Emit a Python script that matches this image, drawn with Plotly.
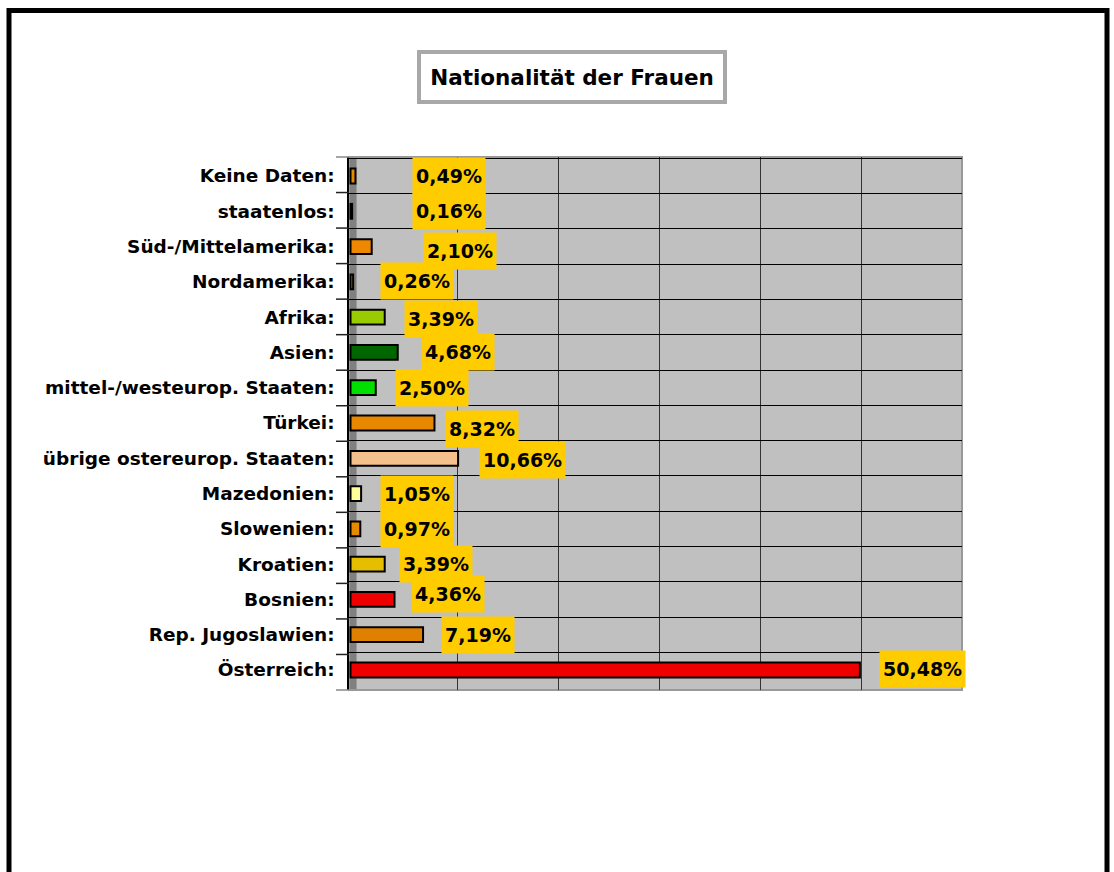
import plotly.graph_objects as go

# ---- data (top to bottom as shown) ----
categories = [
    "Keine Daten:", "staatenlos:", "Süd-/Mittelamerika:", "Nordamerika:",
    "Afrika:", "Asien:", "mittel-/westeurop. Staaten:", "Türkei:",
    "übrige ostereurop. Staaten:", "Mazedonien:", "Slowenien:", "Kroatien:",
    "Bosnien:", "Rep. Jugoslawien:", "Österreich:",
]
values = [0.49, 0.16, 2.10, 0.26, 3.39, 4.68, 2.50, 8.32, 10.66, 1.05, 0.97, 3.39, 4.36, 7.19, 50.48]
value_labels = ["0,49%", "0,16%", "2,10%", "0,26%", "3,39%", "4,68%", "2,50%", "8,32%",
                "10,66%", "1,05%", "0,97%", "3,39%", "4,36%", "7,19%", "50,48%"]

# ---- styles ----
bar_colors = ["#E68A00", "#2A1A00", "#EE8800", "#C87000", "#99CC00", "#006600", "#00E000",
              "#E88800", "#F4C08C", "#FFFF99", "#E68A00", "#E6BE00", "#EE0000", "#E08000", "#EE0000"]
label_xshift = [57, 60, 51, 27, 19, 23, 19, 11, 21, 19, 20, 14, 16, 18, 19]
label_yshift = [0, 0, -4, 1, -2, 0, 0, -6, -2, 0, 0, 0, 5, 0, 1]

W, H = 1114, 872
PX0, PX1, PY0, PY1 = 349, 962, 157, 690
xdom = [PX0 / W, PX1 / W]
ydom = [1 - PY1 / H, 1 - PY0 / H]
TICKLEN = 13

fig = go.Figure()
fig.add_trace(go.Bar(
    y=categories, x=values, orientation="h", xaxis="x2", yaxis="y",
    width=0.42,
    marker=dict(color=bar_colors, line=dict(color="#000000", width=2)),
    hoverinfo="x+y",
))

annotations = []
for cat, v, lab, xs, ys in zip(categories, values, value_labels, label_xshift, label_yshift):
    annotations.append(dict(
        xref="x2", yref="y", x=v, y=cat, text=lab, showarrow=False,
        xanchor="left", yanchor="middle", xshift=xs, yshift=ys,
        bgcolor="#FFCC00", borderpad=3, height=30,
        font=dict(family="DejaVu Sans", size=19, color="#000000", weight="bold"),
    ))

# title box
annotations.append(dict(
    xref="paper", yref="paper", x=572 / W, y=1 - 77 / H, xanchor="center", yanchor="middle",
    text="Nationalität der Frauen", showarrow=False,
    font=dict(family="DejaVu Sans", size=21.5, color="#000000", weight="bold"),
    bgcolor="#FFFFFF", bordercolor="#A8A8A8", borderwidth=4, borderpad=0,
    width=302, height=46,
))

shapes = [
    # 3D wall on the left
    dict(type="rect", xref="x", yref="y domain", x0=-0.75, x1=0, y0=0, y1=1,
         fillcolor="#808080", line=dict(width=0), layer="below"),
    # plot area border
    dict(type="rect", xref="x domain", yref="y domain", x0=0, x1=1, y0=0, y1=1,
         fillcolor="rgba(0,0,0,0)", line=dict(color="#999999", width=2), layer="below"),
    # outer frame
    dict(type="rect", xref="paper", yref="paper", x0=9 / W, x1=1107 / W, y0=-0.05, y1=1 - 10.5 / H,
         fillcolor="rgba(0,0,0,0)", line=dict(color="#000000", width=5)),
]
# category-boundary tick marks left of the axis
n = len(categories)
for i in range(n + 1):
    yb = ydom[1] - (ydom[1] - ydom[0]) * i / n
    shapes.append(dict(
        type="line", xref="paper", yref="paper",
        x0=(PX0 - TICKLEN) / W, x1=PX0 / W, y0=yb, y1=yb,
        line=dict(color="#222222" if 0 < i < n else "#888888", width=1.5),
    ))

fig.update_layout(
    width=W, height=H,
    margin=dict(l=0, r=0, t=0, b=0),
    paper_bgcolor="#FFFFFF", plot_bgcolor="#C0C0C0",
    showlegend=False,
    annotations=annotations, shapes=shapes,
    xaxis=dict(domain=xdom, range=[-0.75, 60], tickvals=[10, 20, 30, 40, 50],
               showticklabels=False, ticks="", showgrid=True, gridcolor="#333333", gridwidth=1,
               zeroline=False, showline=False, fixedrange=True),
    xaxis2=dict(overlaying="x", range=[-0.15, 60.6], visible=False, fixedrange=True),
    yaxis=dict(domain=ydom, type="category", autorange="reversed", tickson="boundaries",
               ticks="", ticklabelstandoff=9,
               showgrid=True, gridcolor="#000000", gridwidth=1,
               showline=True, linecolor="#000000", linewidth=1.5,
               tickfont=dict(family="DejaVu Sans", size=18.5, color="#000000", weight="bold"),
               automargin=False, fixedrange=True),
)

fig.write_html("out.html", config={"displayModeBar": False},
               post_script="document.body.style.margin='0';document.body.style.overflow='hidden';")
